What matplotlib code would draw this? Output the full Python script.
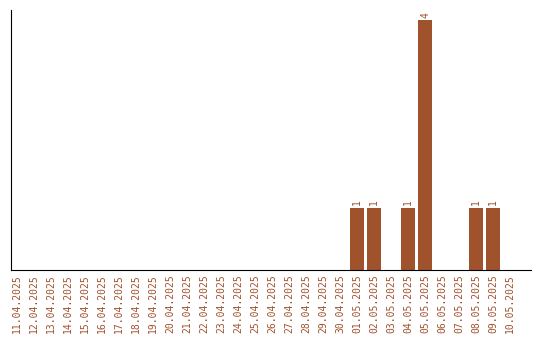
import numpy as np
import matplotlib.pyplot as plt

# datos
fechas = ['11.04.2025', '12.04.2025', '13.04.2025', '14.04.2025', '15.04.2025',
          '16.04.2025', '17.04.2025', '18.04.2025', '19.04.2025', '20.04.2025',
          '21.04.2025', '22.04.2025', '23.04.2025', '24.04.2025', '25.04.2025',
          '26.04.2025', '27.04.2025', '28.04.2025', '29.04.2025', '30.04.2025',
          '01.05.2025', '02.05.2025', '03.05.2025', '04.05.2025', '05.05.2025',
          '06.05.2025', '07.05.2025', '08.05.2025', '09.05.2025', '10.05.2025']
valores = [0, 0, 0, 0, 0, 0, 0, 0, 0, 0,
           0, 0, 0, 0, 0, 0, 0, 0, 0, 0,
           1, 1, 0, 1, 4, 0, 0, 1, 1, 0]

color = '#A0522D'

fig = plt.figure(figsize=(5.4, 3.4), dpi=100)
ax = fig.add_axes([10.5 / 540, 1 - 270 / 340, 520 / 540, 260 / 340])

x = np.arange(len(fechas))
barras = ax.bar(x, valores, width=0.82, color=color)

for xi, v in zip(x, valores):
    if v > 0:
        ax.text(xi, v + 0.04, str(v), rotation=90, ha='center', va='bottom',
                color=color, fontsize=7, family='DejaVu Sans Mono')

ax.set_xlim(-0.38, 30.2)
ax.set_ylim(0, 4.16)
ax.set_xticks(x)
ax.set_xticklabels(fechas, rotation=90, color=color, fontsize=7,
                   family='DejaVu Sans Mono')
ax.tick_params(axis='x', length=0, pad=3)
ax.set_yticks([])
ax.spines['top'].set_visible(False)
ax.spines['right'].set_visible(False)

fig.savefig('out.png', dpi=100)
